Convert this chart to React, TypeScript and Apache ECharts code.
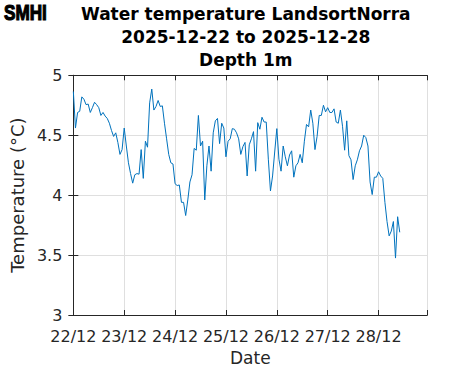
import React, { useEffect, useRef } from "react";
import * as echarts from "echarts";

// Hourly water temperature from 2025-12-22 00:00
const temps: number[] = [
  4.865, 4.56, 4.69, 4.70, 4.82, 4.80, 4.755, 4.76, 4.69, 4.73,
  4.775, 4.755, 4.73, 4.665, 4.69, 4.66, 4.64, 4.60, 4.54, 4.49,
  4.52, 4.44, 4.34, 4.38, 4.56, 4.41, 4.27, 4.18, 4.10, 4.17,
  4.18, 4.175, 4.38, 4.14, 4.45, 4.40, 4.77, 4.885, 4.71, 4.74,
  4.79, 4.74, 4.745, 4.60, 4.47, 4.34, 4.27, 4.26, 4.095, 4.08,
  4.085, 3.94, 3.94, 3.83, 3.96, 4.11, 4.17, 4.39,
  4.375, 4.665, 4.41, 4.45, 3.96, 4.245, 4.41, 4.20, 4.52, 4.62,
  4.64, 4.43, 4.60, 4.56, 4.32, 4.45, 4.47, 4.555, 4.55, 4.52,
  4.47, 4.34, 4.405, 4.44, 4.16, 4.42, 4.47, 4.53, 4.20, 4.605,
  4.55, 4.65, 4.61, 4.61, 4.30, 4.035, 4.16, 4.36, 4.555, 4.30,
  4.20, 4.41, 4.32, 4.245, 4.335, 4.37, 4.15, 4.245, 4.27, 4.34,
  4.27,
  4.45, 4.59, 4.57, 4.71, 4.60, 4.38, 4.49, 4.665, 4.665, 4.75,
  4.695, 4.73, 4.69, 4.69, 4.72, 4.61, 4.60, 4.71, 4.575, 4.375,
  4.62, 4.33, 4.295, 4.13, 4.245, 4.295, 4.37, 4.41, 4.50, 4.48,
  4.41, 4.11, 4.005, 4.15, 4.15, 4.195, 4.16, 4.14, 3.94, 3.78,
  3.66, 3.70, 3.78, 3.475, 3.82, 3.69,
];

const dayLabels: string[] = ["22/12", "23/12", "24/12", "25/12", "26/12", "27/12", "28/12"];
const yTicks: number[] = [3, 3.5, 4, 4.5, 5];
const titleLines: string[] = [
  "Water temperature LandsortNorra",
  "2025-12-22 to 2025-12-28",
  "Depth 1m",
];

const GL = 64.3;
const GT = 75.3;
const GR = 471 - 427.3;
const GB = 371 - 317.7;
const AX = "#262626";
const FONT = "DejaVu Sans";

export default function App() {
  const ref = useRef<HTMLDivElement>(null);
  useEffect(() => {
    if (!ref.current) return;
    const chart = echarts.init(ref.current, null, { renderer: "svg" });
    const xMax = 167;
    const common = {
      type: "value" as const,
      min: 0,
      max: xMax,
      interval: 24,
    };
    chart.setOption({
      animation: false,
      backgroundColor: "#fff",
      grid: { left: GL, top: GT, right: GR, bottom: GB, show: false },
      graphic: [
        {
          type: "text",
          x: 4,
          y: 1,
          scaleX: 0.78,
          style: {
            text: "SMHI",
            font: "bold 22px 'Liberation Sans', sans-serif",
            fill: "#000",
            stroke: "#000",
            lineWidth: 1.2,
          },
        },
        ...titleLines.map((t, i) => ({
          type: "text",
          x: (GL + 427.3) / 2,
          y: 5 + i * 23,
          style: {
            text: t,
            font: `bold 17px '${FONT}'`,
            fill: "#000",
            textAlign: "center",
            textVerticalAlign: "top",
          },
        })),
      ],
      xAxis: [
        {
          ...common,
          position: "bottom",
          name: "Date",
          nameLocation: "middle",
          nameGap: 34,
          nameTextStyle: { fontFamily: FONT, fontSize: 17, color: AX },
          axisLine: { show: true, lineStyle: { color: AX, width: 1 } },
          axisTick: { show: true, inside: true, length: 5, lineStyle: { color: AX } },
          splitLine: { show: true, lineStyle: { color: "#dfdfdf", width: 1 } },
          axisLabel: {
            fontFamily: FONT,
            fontSize: 16,
            color: AX,
            margin: 13,
            formatter: (v: number) => (v % 24 === 0 ? dayLabels[v / 24] ?? "" : ""),
          },
        },
        {
          ...common,
          position: "top",
          axisLine: { show: true, lineStyle: { color: AX, width: 1 } },
          axisTick: { show: true, inside: true, length: 5, lineStyle: { color: AX } },
          splitLine: { show: false },
          axisLabel: { show: false },
        },
      ],
      yAxis: [
        {
          type: "value",
          min: yTicks[0],
          max: yTicks[yTicks.length - 1],
          interval: 0.5,
          position: "left",
          name: "Temperature (°C)",
          nameLocation: "middle",
          nameGap: 43,
          nameTextStyle: { fontFamily: FONT, fontSize: 18, color: AX },
          axisLine: { show: true, lineStyle: { color: AX, width: 1 } },
          axisTick: { show: true, inside: true, length: 5, lineStyle: { color: AX } },
          splitLine: { show: true, lineStyle: { color: "#dfdfdf", width: 1 } },
          axisLabel: {
            fontFamily: FONT,
            fontSize: 16,
            color: AX,
            margin: 11,
            formatter: (v: number) => String(v),
          },
        },
        {
          type: "value",
          min: yTicks[0],
          max: yTicks[yTicks.length - 1],
          interval: 0.5,
          position: "right",
          axisLine: { show: true, lineStyle: { color: AX, width: 1 } },
          axisTick: { show: true, inside: true, length: 5, lineStyle: { color: AX } },
          splitLine: { show: false },
          axisLabel: { show: false },
        },
      ],
      series: [
        {
          type: "line",
          xAxisIndex: 0,
          yAxisIndex: 0,
          data: temps.map((v, i) => [i, v]),
          showSymbol: false,
          symbol: "none",
          lineStyle: { color: "#0072BD", width: 1 },
          z: 3,
        },
      ],
    });
    return () => chart.dispose();
  }, []);
  return (
    <div
      ref={ref}
      style={{ position: "absolute", left: 0, top: 0, width: 471, height: 371 }}
    />
  );
}
